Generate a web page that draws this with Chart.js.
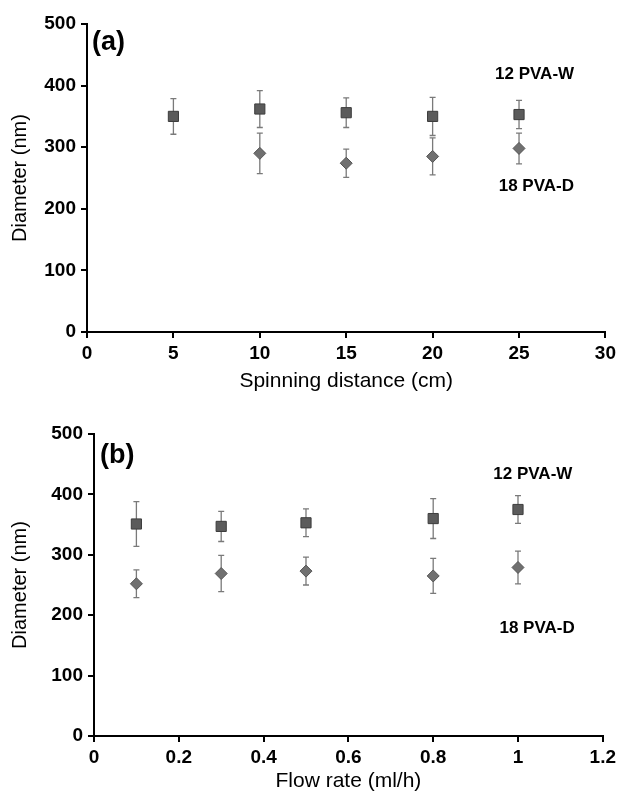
<!DOCTYPE html>
<html><head><meta charset="utf-8">
<script src="https://cdn.jsdelivr.net/npm/chart.js@4.4.1/dist/chart.umd.min.js"></script>
<style>
html,body{margin:0;padding:0;background:#fff;}
#wrap{position:relative;width:620px;height:794px;overflow:hidden;background:#fff;}
.panel{position:absolute;left:0;width:620px;height:397px;}
</style></head><body>
<div id="wrap">
<div class="panel" style="top:0"><canvas id="ca" width="620" height="397"></canvas></div>
<div class="panel" style="top:397px"><canvas id="cb" width="620" height="397"></canvas></div>
</div>
<script>
// ---- Panel (a): spinning distance ----
const distanceW = [5, 10, 15, 20, 25];
const w12Dist = [350, 362, 356, 350, 353];
const w12DistErr = [29, 30, 24, 31, 23];
const distanceD = [10, 15, 20, 25];
const d18Dist = [290, 274, 285, 298];
const d18DistErr = [33, 23, 30, 25];
const distanceTicks = ['0', '5', '10', '15', '20', '25', '30'];

// ---- Panel (b): flow rate ----
const flowRate = [0.1, 0.3, 0.5, 0.8, 1.0];
const w12Flow = [351, 347, 353, 360, 375];
const w12FlowErr = [37, 25, 23, 33, 23];
const d18Flow = [252, 269, 273, 265, 279];
const d18FlowErr = [23, 30, 23, 29, 27];
const flowTicks = ['0', '0.2', '0.4', '0.6', '0.8', '1', '1.2'];

const diameterTicks = ['0', '100', '200', '300', '400', '500'];
const seriesNames = ['12 PVA-W', '18 PVA-D'];

const FONT = "'Liberation Sans', Arial, sans-serif";

const errorBarPlugin = {
  id: 'errorBars',
  beforeDatasetsDraw(chart) {
    const {ctx, scales: {x, y}} = chart;
    ctx.save();
    chart.data.datasets.forEach(ds => {
      if (!ds.errors) return;
      ctx.strokeStyle = '#7a7a7a';
      ctx.lineWidth = 1.3;
      ds.data.forEach((p, i) => {
        const px = x.getPixelForValue(p.x);
        const top = y.getPixelForValue(p.y + ds.errors[i]);
        const bot = y.getPixelForValue(p.y - ds.errors[i]);
        ctx.beginPath();
        ctx.moveTo(px, top); ctx.lineTo(px, bot);
        ctx.moveTo(px - 3, top); ctx.lineTo(px + 3, top);
        ctx.moveTo(px - 3, bot); ctx.lineTo(px + 3, bot);
        ctx.stroke();
      });
    });
    ctx.restore();
  }
};

const notesPlugin = {
  id: 'notes',
  afterDraw(chart, args, opts) {
    const {ctx, chartArea, scales: {x, y}} = chart;
    ctx.save();
    ctx.fillStyle = '#000';
    ctx.textBaseline = 'middle';
    ctx.textAlign = 'center';
    ctx.font = 'bold 17px ' + FONT;
    (opts.items || []).forEach(it => {
      ctx.fillText(it.text, x.getPixelForValue(it.x), y.getPixelForValue(it.y));
    });
    if (opts.panel) {
      ctx.textAlign = 'left';
      ctx.font = 'bold 27px ' + FONT;
      ctx.fillText(opts.panel.text, chartArea.left + opts.panel.dx, chartArea.top + opts.panel.dy);
    }
    ctx.restore();
  }
};

function makeChart(id, cfg) {
  const xs = cfg.xTicks;
  return new Chart(document.getElementById(id), {
    type: 'scatter',
    data: {
      datasets: [
        {
          label: seriesNames[0],
          data: cfg.wx.map((v, i) => ({x: v, y: cfg.wy[i]})),
          errors: cfg.we,
          pointStyle: 'rect', pointRadius: 7.2,
          backgroundColor: '#5b5b5b', borderColor: '#3d3d3d', borderWidth: 1
        },
        {
          label: seriesNames[1],
          data: cfg.dx.map((v, i) => ({x: v, y: cfg.dy[i]})),
          errors: cfg.de,
          pointStyle: 'rectRot', pointRadius: 6,
          backgroundColor: '#707070', borderColor: '#555', borderWidth: 1
        }
      ]
    },
    options: {
      responsive: false,
      animation: false,
      events: [],
      layout: {padding: cfg.padding},
      plugins: {
        legend: {display: false},
        tooltip: {enabled: false},
        notes: {items: cfg.notes, panel: cfg.panel}
      },
      scales: {
        x: {
          type: 'linear', min: cfg.xMin, max: cfg.xMax,
          ticks: {
            stepSize: cfg.xStep, color: '#000',
            font: {family: FONT, size: 19, weight: 'bold'}, padding: 4,
            maxRotation: 0,
            callback: (v, i) => xs[i]
          },
          grid: {drawOnChartArea: false, drawTicks: true, tickLength: 6, color: '#000', lineWidth: 2},
          border: {display: true, color: '#000', width: 2},
          title: {display: true, text: cfg.xTitle, color: '#000',
                  font: {family: FONT, size: 21}, padding: cfg.xTitlePad},
          afterFit: s => { s.height = cfg.xHeight; }
        },
        y: {
          type: 'linear', min: 0, max: 500,
          ticks: {
            stepSize: 100, color: '#000',
            font: {family: FONT, size: 19, weight: 'bold'}, padding: 5,
            callback: (v, i) => diameterTicks[i]
          },
          grid: {drawOnChartArea: false, drawTicks: true, tickLength: 6, color: '#000', lineWidth: 2},
          border: {display: true, color: '#000', width: 2},
          title: {display: true, text: 'Diameter (nm)', color: '#000',
                  font: {family: FONT, size: 20}, padding: {top: 8, bottom: 0}},
          afterFit: s => { s.width = cfg.yWidth; }
        }
      }
    },
    plugins: [errorBarPlugin, notesPlugin]
  });
}

makeChart('ca', {
  wx: distanceW, wy: w12Dist, we: w12DistErr,
  dx: distanceD, dy: d18Dist, de: d18DistErr,
  xMin: 0, xMax: 30, xStep: 5, xTicks: distanceTicks,
  xTitle: 'Spinning distance (cm)',
  padding: {top: 24, right: 12, bottom: 0, left: 0},
  yWidth: 87, xHeight: 65, xTitlePad: {top: 0, bottom: 3},
  notes: [{text: seriesNames[0], x: 25.9, y: 419}, {text: seriesNames[1], x: 26.0, y: 237}],
  panel: {text: '(a)', dx: 5, dy: 19}
});

makeChart('cb', {
  wx: flowRate, wy: w12Flow, we: w12FlowErr,
  dx: flowRate, dy: d18Flow, de: d18FlowErr,
  xMin: 0, xMax: 1.2, xStep: 0.2, xTicks: flowTicks,
  xTitle: 'Flow rate (ml/h)',
  padding: {top: 37, right: 14, bottom: 0, left: 0},
  yWidth: 94, xHeight: 58, xTitlePad: {top: 0, bottom: 0},
  notes: [{text: seriesNames[0], x: 1.035, y: 433}, {text: seriesNames[1], x: 1.045, y: 178}],
  panel: {text: '(b)', dx: 6, dy: 22}
});
</script>
</body></html>
